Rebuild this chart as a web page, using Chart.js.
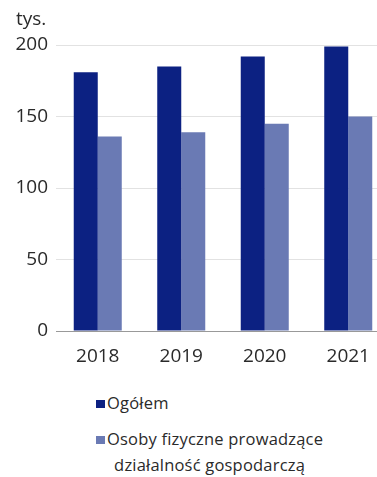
<!DOCTYPE html>
<html lang="pl">
<head>
    <meta charset="UTF-8">
    <title>Ogółem i osoby fizyczne</title>
    <script src="https://cdn.jsdelivr.net/npm/chart.js"></script>
    <style>
        html, body { margin: 0; padding: 0; background: #fff; overflow: hidden; }
        body { width: 377px; height: 477px; position: relative; font-family: 'Open Sans', sans-serif; color: #2a2a2a; }
        .chart-box { position: absolute; left: 0; top: 0; width: 395px; height: 378px; }
        .unit { position: absolute; left: 16px; top: 5px; font-size: 19px; color: #2a2a2a; }
        .legend { position: absolute; left: 96px; top: 390px; font-size: 16.5px; letter-spacing: 0.2px; color: #2a2a2a; }
        .item { position: relative; line-height: 26px; }
        .item .sw { display: inline-block; width: 9px; height: 8px; margin-right: 2px; vertical-align: 1px; }
        .item2 { margin-top: 10px; text-align: center; }
    </style>
</head>
<body>
<div class="chart-box">
    <canvas id="chart"></canvas>
</div>
<div class="unit">tys.</div>
<div class="legend">
    <div class="item"><span class="sw" style="background:#0c2182"></span>Ogółem</div>
    <div class="item item2"><span class="sw" style="background:#6a7ab4"></span>Osoby fizyczne prowadzące<br>działalność gospodarczą</div>
</div>

<script>
    // dane
    const years = ['2018', '2019', '2020', '2021'];
    const ogolem = [181, 185, 192, 199];
    const osobyFizyczne = [136, 139, 145, 150];
    const yTicks = [0, 50, 100, 150, 200];

    const chart = new Chart(document.getElementById('chart'), {
        type: 'bar',
        data: {
            labels: years,
            datasets: [{
                label: 'Ogółem',
                data: ogolem,
                backgroundColor: '#0c2182'
            }, {
                label: 'Osoby fizyczne prowadzące działalność gospodarczą',
                data: osobyFizyczne,
                backgroundColor: '#6a7ab4'
            }]
        },
        options: {
            responsive: true,
            maintainAspectRatio: false,
            animation: false,
            layout: { padding: { top: 45, right: 5, left: 0, bottom: 0 } },
            plugins: {
                legend: { display: false },
                tooltip: { enabled: false }
            },
            datasets: {
                bar: { barPercentage: 1, categoryPercentage: 0.575 }
            },
            scales: {
                x: {
                    grid: { display: false, drawTicks: false },
                    border: { display: true, color: '#999', width: 1 },
                    ticks: {
                        color: '#2a2a2a',
                        padding: 14,
                        font: { family: 'Open Sans', size: 19 }
                    },
                    afterFit: function (scale) { scale.height = 47; }
                },
                y: {
                    min: 0,
                    max: 200,
                    afterBuildTicks: function (scale) {
                        scale.ticks = yTicks.map(v => ({ value: v }));
                    },
                    grid: {
                        drawTicks: false,
                        color: ctx => ctx.tick && ctx.tick.value === 0 ? '#999' : '#e2e2e2'
                    },
                    border: { display: false },
                    ticks: {
                        color: '#2a2a2a',
                        padding: 8,
                        font: { family: 'Open Sans', size: 19 }
                    },
                    afterFit: function (scale) { scale.width = 56; }
                }
            }
        }
    });
</script>
</body>
</html>
